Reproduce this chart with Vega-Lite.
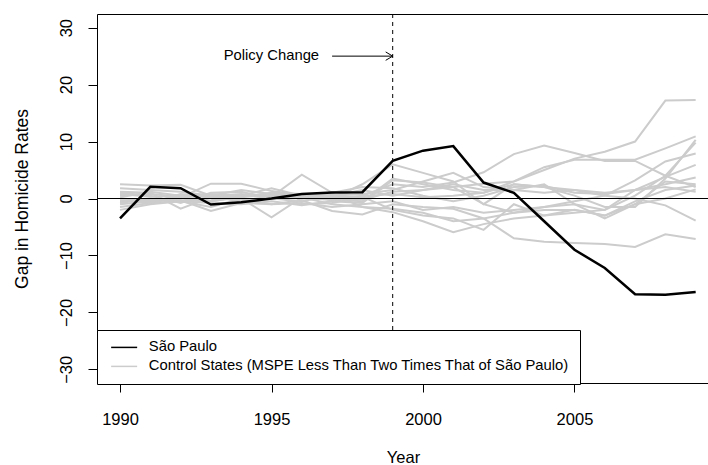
{
  "$schema": "https://vega.github.io/schema/vega-lite/v6.json",
  "autosize": {"type": "none"},
  "width": 612,
  "height": 369,
  "padding": {"left": 97, "top": 14, "right": 0, "bottom": 82},
  "background": "white",
  "config": {
    "font": "Liberation Sans",
    "view": {"stroke": "black", "strokeWidth": 1},
    "axis": {"grid": false, "domain": false, "tickColor": "black", "labelColor": "black", "titleColor": "black", "titleFontWeight": "normal", "labelFont": "Liberation Sans", "titleFont": "Liberation Sans"},
    "legend": {"labelFont": "Liberation Sans"}
  },
  "datasets": {
    "gaps": [
      {"state": "SP", "group": "São Paulo", "year": 1990, "value": -3.5},
      {"state": "SP", "group": "São Paulo", "year": 1991, "value": 2.05},
      {"state": "SP", "group": "São Paulo", "year": 1992, "value": 1.8},
      {"state": "SP", "group": "São Paulo", "year": 1993, "value": -1.05},
      {"state": "SP", "group": "São Paulo", "year": 1994, "value": -0.65},
      {"state": "SP", "group": "São Paulo", "year": 1995, "value": 0.0},
      {"state": "SP", "group": "São Paulo", "year": 1996, "value": 0.8},
      {"state": "SP", "group": "São Paulo", "year": 1997, "value": 1.05},
      {"state": "SP", "group": "São Paulo", "year": 1998, "value": 1.1},
      {"state": "SP", "group": "São Paulo", "year": 1999, "value": 6.6},
      {"state": "SP", "group": "São Paulo", "year": 2000, "value": 8.4},
      {"state": "SP", "group": "São Paulo", "year": 2001, "value": 9.2},
      {"state": "SP", "group": "São Paulo", "year": 2002, "value": 2.8},
      {"state": "SP", "group": "São Paulo", "year": 2003, "value": 1.0},
      {"state": "SP", "group": "São Paulo", "year": 2004, "value": -4.0},
      {"state": "SP", "group": "São Paulo", "year": 2005, "value": -9.0},
      {"state": "SP", "group": "São Paulo", "year": 2006, "value": -12.2},
      {"state": "SP", "group": "São Paulo", "year": 2007, "value": -16.8},
      {"state": "SP", "group": "São Paulo", "year": 2008, "value": -16.9},
      {"state": "SP", "group": "São Paulo", "year": 2009, "value": -16.4}
    ],
    "controls": [
      {"state": "C1", "values": [0.5,0.8,0.3,-0.5,0.2,0.8,0.5,0.3,-0.2,1.2,1.5,2.0,2.6,3.0,5.0,7.0,8.2,10.0,17.2,17.3]},
      {"state": "C2", "values": [2.5,2.3,2.4,0.5,0.8,0.3,0.2,-0.3,0.5,2.5,2.0,2.8,4.6,7.8,9.3,8.0,6.6,6.6,4.0,2.0]},
      {"state": "C3", "values": [-0.5,-0.3,0.2,2.6,2.6,1.3,0.5,0.2,0.4,0.8,0.2,0.5,1.0,3.0,5.5,6.8,6.8,6.8,8.8,10.9]},
      {"state": "C4", "values": [1.2,1.0,-1.8,0.2,0.5,1.8,0.5,-0.2,-0.5,3.5,2.5,1.5,1.0,2.5,2.0,0.5,-1.5,-1.5,3.5,10.3]},
      {"state": "C5", "values": [-1.0,-0.5,-0.3,-2.2,-0.8,-1.0,-0.8,-1.5,-1.0,-0.5,-2.0,-1.5,-2.5,-2.0,-1.5,-1.0,-2.0,0.5,4.0,9.8]},
      {"state": "C6", "values": [0.8,0.3,0.5,0.2,0.0,-3.3,0.2,0.8,-1.5,-1.8,-2.5,-4.0,-3.5,-2.5,-1.5,-0.5,0.5,3.2,6.5,7.9]},
      {"state": "C7", "values": [-0.3,-0.8,-0.5,-0.3,0.5,0.3,4.2,1.0,2.0,1.8,0.5,-0.5,0.5,2.0,2.2,1.0,0.8,1.5,3.8,5.9]},
      {"state": "C8", "values": [0.2,1.2,0.5,0.8,0.5,0.5,0.2,-1.0,-1.5,-2.4,-4.0,-5.9,-4.5,-3.5,-3.0,-2.5,-2.0,1.5,2.5,3.7]},
      {"state": "C9", "values": [-2.0,-1.0,-0.5,-1.5,0.0,-1.0,-0.3,-2.2,-2.8,-1.0,-1.5,-1.8,-3.5,-7.0,-7.6,-7.8,-8.0,-8.5,-6.3,-7.1]},
      {"state": "C10", "values": [1.0,0.5,-0.8,1.0,1.2,0.0,-0.5,0.5,1.5,0.5,1.5,2.5,1.5,1.5,1.0,1.5,0.5,0.0,-1.2,-3.9]},
      {"state": "C11", "values": [-1.5,-0.8,0.8,0.3,-0.5,0.5,-1.0,-0.8,0.3,-2.0,-3.0,-3.5,-5.5,-1.0,-3.0,-2.0,-3.0,-0.5,1.5,2.3]},
      {"state": "C12", "values": [0.0,-0.3,0.0,-0.5,0.3,1.0,0.8,0.5,0.8,1.5,3.0,4.5,2.0,1.5,2.5,-1.0,-3.5,-1.0,0.0,1.6]},
      {"state": "C13", "values": [-0.8,0.0,-0.5,-0.8,-1.0,-0.5,-1.2,-0.5,-0.8,3.2,2.8,2.0,-1.0,-2.5,-2.0,-2.0,-3.0,-1.0,3.0,2.5]},
      {"state": "C14", "values": [1.8,1.5,1.2,0.5,1.5,0.8,0.0,0.0,2.5,6.0,4.5,3.0,-1.0,2.5,2.0,1.5,1.0,1.5,2.0,1.2]}
    ]
  },
  "data": {"name": "gaps"},
  "layer": [
    {
      "data": {"name": "controls"},
      "transform": [
        {"flatten": ["values"]},
        {"window": [{"op": "row_number", "as": "idx"}], "groupby": ["state"]},
        {"calculate": "1989 + datum.idx", "as": "year"},
        {"calculate": "'Control States (MSPE Less Than Two Times That of São Paulo)'", "as": "group"}
      ],
      "mark": {"type": "line", "strokeWidth": 2, "clip": true},
      "encoding": {
        "x": {"field": "year", "type": "quantitative", "scale": {"domain": [1989.24, 2009.44], "nice": false, "zero": false},
          "axis": {"values": [1990, 1995, 2000, 2005], "format": "d", "title": "Year", "tickSize": 9, "labelPadding": 32, "labelBaseline": "alphabetic", "labelFontSize": 16.5, "titleFontSize": 16.5, "titleY": 79, "titleBaseline": "alphabetic", "labelFlush": false}},
        "y": {"field": "values", "type": "quantitative", "scale": {"domain": [-32.4, 32.4], "nice": false, "zero": false},
          "axis": {"values": [-30, -20, -10, 0, 10, 20, 30], "title": "Gap in Homicide Rates", "tickSize": 9, "labelAngle": -90, "labelAlign": "center", "labelBaseline": "alphabetic", "labelPadding": 17, "labelFontSize": 16.5, "titleFontSize": 17.5, "titleAngle": -90, "titleX": -75, "titleY": 184.5, "titleAlign": "center", "titleBaseline": "middle", "labelFlush": false}},
        "detail": {"field": "state"},
        "color": {"field": "group", "type": "nominal",
          "scale": {"domain": ["São Paulo", "Control States (MSPE Less Than Two Times That of São Paulo)"], "range": ["#000000", "#cccccc"]},
          "legend": {"title": null, "orient": "none", "legendX": 0, "legendY": 316, "direction": "vertical",
            "fillColor": "white", "strokeColor": "black", "padding": 10, "cornerRadius": 0,
            "symbolType": "M-1,0H7", "symbolSize": 42.25, "symbolStrokeWidth": 1.5, "labelOffset": 27,
            "labelFontSize": 14.8, "labelLimit": 0, "rowPadding": 3, "labelColor": "black"}}
      }
    },
    {
      "mark": {"type": "line", "strokeWidth": 2.5, "clip": true},
      "encoding": {
        "x": {"field": "year", "type": "quantitative"},
        "y": {"field": "value", "type": "quantitative"},
        "color": {"field": "group", "type": "nominal"}
      }
    },
    {
      "data": {"values": [{}]},
      "mark": {"type": "rule", "color": "black", "strokeWidth": 1},
      "encoding": {"y": {"datum": 0}}
    },
    {
      "data": {"values": [{}]},
      "mark": {"type": "rule", "color": "black", "strokeWidth": 1, "strokeDash": [4, 4]},
      "encoding": {"x": {"datum": 1999}}
    },
    {
      "data": {"values": [{}]},
      "mark": {"type": "rule", "color": "black", "strokeWidth": 1},
      "encoding": {"x": {"datum": 1997}, "x2": {"datum": 1999}, "y": {"datum": 25}}
    },
    {
      "data": {"values": [{}]},
      "mark": {"type": "point", "shape": "M-1,-0.6L0,0L-1,0.6", "size": 196, "filled": false, "color": "black", "strokeWidth": 1, "opacity": 1},
      "encoding": {"x": {"datum": 1999}, "y": {"datum": 25}}
    },
    {
      "data": {"values": [{}]},
      "mark": {"type": "text", "text": "Policy Change", "align": "right", "baseline": "middle", "dx": -13, "fontSize": 14.8, "color": "black"},
      "encoding": {"x": {"datum": 1997}, "y": {"datum": 25}}
    }
  ]
}
